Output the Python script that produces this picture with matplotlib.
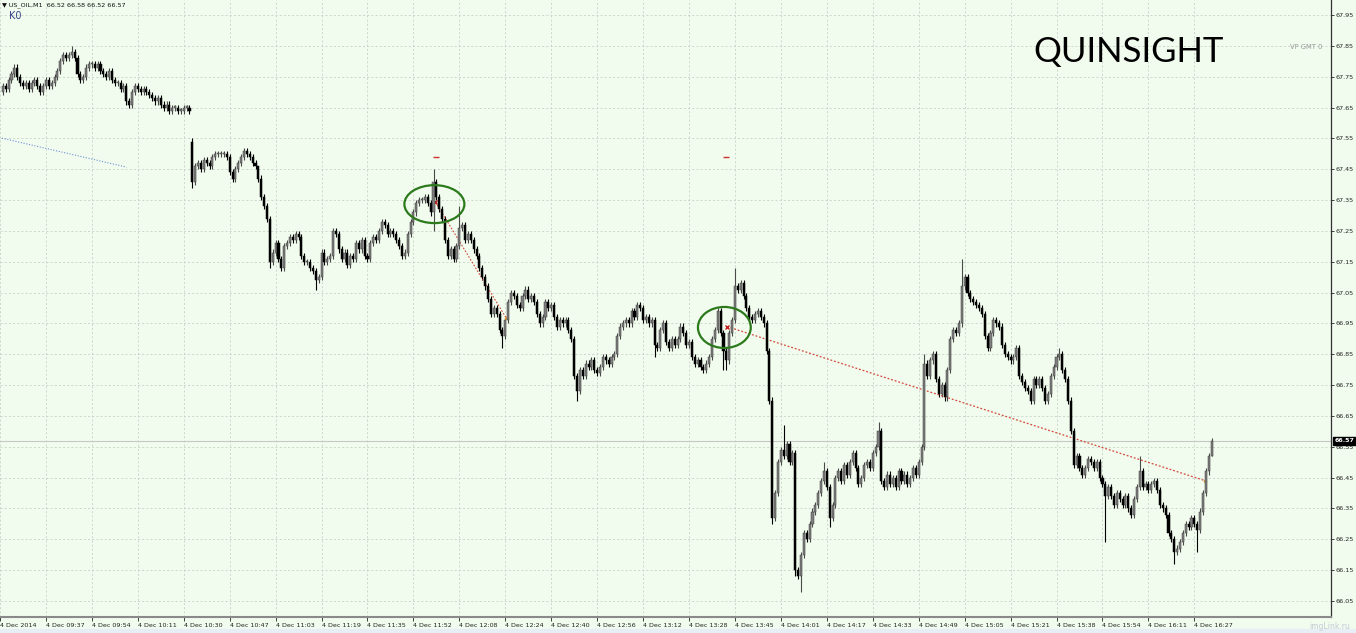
import numpy as np
import matplotlib
matplotlib.use("Agg")
import matplotlib.pyplot as plt
from matplotlib.patches import Ellipse, Rectangle

plt.rcParams['font.family'] = ['DejaVu Sans']

# ---- data (US_OIL M1, 4 Dec 2014) ----
closes = [
    67.72, 67.71, 67.74, 67.76, 67.78, 67.75, 67.73, 67.72, 67.73, 67.71,
    67.73, 67.74, 67.72, 67.70, 67.72, 67.74, 67.72, 67.73, 67.75, 67.77,
    67.80, 67.82, 67.81, 67.82, 67.83, 67.81, 67.76, 67.74, 67.75, 67.78,
    67.79, 67.79, 67.78, 67.79, 67.77, 67.76, 67.75, 67.77, 67.74, 67.73,
    67.73, 67.71, 67.72, 67.67, 67.66, 67.70, 67.72, 67.71, 67.70, 67.71,
    67.70, 67.69, 67.68, 67.67, 67.68, 67.66, 67.65, 67.66, 67.64, 67.65,
    67.65, 67.64, 67.64, 67.65, 67.65, 67.64,
    67.41,
    67.46, 67.47, 67.45, 67.48, 67.47, 67.46, 67.49, 67.50, 67.50,
    67.50, 67.50, 67.49, 67.44, 67.42, 67.45, 67.47, 67.49, 67.51, 67.50,
    67.49, 67.47, 67.46, 67.42, 67.36, 67.33, 67.29, 67.15, 67.18, 67.21,
    67.16, 67.13, 67.20, 67.21, 67.23, 67.22, 67.24, 67.23, 67.17, 67.15,
    67.15, 67.13, 67.12, 67.09, 67.10, 67.18, 67.15, 67.16, 67.17, 67.25,
    67.24, 67.19, 67.16, 67.18, 67.14, 67.17, 67.16, 67.21, 67.19, 67.22,
    67.17, 67.16, 67.21, 67.23, 67.22, 67.25, 67.28, 67.27, 67.24, 67.25,
    67.24, 67.22, 67.20, 67.17, 67.18, 67.24, 67.28, 67.31, 67.34, 67.35,
    67.35, 67.36, 67.34, 67.31, 67.41, 67.36, 67.32, 67.29, 67.22, 67.17,
    67.19, 67.16, 67.20, 67.26, 67.27, 67.22, 67.24, 67.22, 67.19, 67.17,
    67.13, 67.10, 67.07, 67.03, 66.98, 67.00, 66.98, 66.93, 66.91, 66.96,
    67.02, 67.05, 67.04, 67.01, 67.00, 67.04, 67.06, 67.03, 67.04, 67.02,
    66.98, 66.95, 66.97, 67.02, 67.00, 67.01, 66.97, 66.94, 66.96, 66.95,
    66.96, 66.93, 66.90, 66.78, 66.73, 66.80, 66.78, 66.82, 66.81, 66.83,
    66.80, 66.79, 66.81, 66.84, 66.83, 66.82, 66.84, 66.85, 66.91, 66.94,
    66.95, 66.96, 66.95, 66.99, 66.97, 67.01, 67.00, 66.96, 66.97, 66.95,
    66.96, 66.88, 66.87, 66.93, 66.95, 66.89, 66.87, 66.90, 66.88, 66.90,
    66.94, 66.92, 66.88, 66.89, 66.84, 66.82, 66.83, 66.81, 66.80, 66.82,
    66.84, 66.90, 66.93, 66.99, 66.92, 66.86, 66.83, 66.92, 66.96, 67.07,
    67.06, 67.08, 67.04, 67.00, 66.97, 66.96, 66.98, 66.99, 66.97, 66.95,
    66.86, 66.70, 66.32, 66.40, 66.50, 66.54, 66.52, 66.56, 66.50, 66.53,
    66.15, 66.13, 66.20, 66.27, 66.25, 66.30, 66.34, 66.36, 66.40, 66.44,
    66.47, 66.42, 66.32, 66.36, 66.45, 66.47, 66.44, 66.49, 66.46, 66.50,
    66.53, 66.48, 66.43, 66.45, 66.49, 66.50, 66.48, 66.53, 66.55, 66.60,
    66.44, 66.42, 66.46, 66.43, 66.45, 66.42, 66.47, 66.44, 66.46, 66.43,
    66.45, 66.48, 66.46, 66.50, 66.55, 66.82, 66.78, 66.83, 66.85, 66.77,
    66.72, 66.75, 66.71, 66.80, 66.90, 66.93, 66.92, 66.95, 67.07, 67.10,
    67.05, 67.03, 67.02, 67.01, 67.00, 66.98, 66.91, 66.87, 66.92, 66.96,
    66.95, 66.94, 66.88, 66.85, 66.84, 66.83, 66.84, 66.87, 66.78, 66.76,
    66.74, 66.73, 66.70, 66.77, 66.75, 66.77, 66.74, 66.70, 66.72, 66.78,
    66.81, 66.84, 66.85, 66.80, 66.77, 66.70, 66.60, 66.49, 66.52, 66.48,
    66.46, 66.48, 66.51, 66.50, 66.48, 66.50, 66.45, 66.43, 66.39, 66.42,
    66.39, 66.36, 66.40, 66.38, 66.36, 66.39, 66.35, 66.33, 66.38, 66.42,
    66.47, 66.42, 66.43, 66.41, 66.43, 66.44, 66.41, 66.36, 66.35, 66.33,
    66.27, 66.25, 66.21, 66.22, 66.24, 66.27, 66.30, 66.29, 66.32, 66.30,
    66.28, 66.34, 66.40, 66.47, 66.52, 66.57,
]
first_open = 67.70
gap_opens = {66: 67.54}
high_spikes = {24: 67.85, 66: 67.55, 89: 67.45, 150: 67.45, 159: 67.33, 255: 67.13,
               272: 66.62, 286: 66.50, 305: 66.63, 321: 66.85, 334: 67.16, 368: 66.87,
               396: 66.52, 421: 66.58}
low_spikes = {66: 67.39, 93: 67.13, 109: 67.06, 150: 67.25, 174: 66.87, 200: 66.70,
              227: 66.84, 251: 66.80, 252: 66.80, 268: 66.30, 276: 66.13, 278: 66.08,
              288: 66.29, 384: 66.24, 408: 66.17, 416: 66.21, 421: 66.52}

tick_labels = ["4 Dec 2014", "4 Dec 09:37", "4 Dec 09:54", "4 Dec 10:11", "4 Dec 10:30",
               "4 Dec 10:47", "4 Dec 11:03", "4 Dec 11:19", "4 Dec 11:35", "4 Dec 11:52",
               "4 Dec 12:08", "4 Dec 12:24", "4 Dec 12:40", "4 Dec 12:56", "4 Dec 13:12",
               "4 Dec 13:28", "4 Dec 13:45", "4 Dec 14:01", "4 Dec 14:17", "4 Dec 14:33",
               "4 Dec 14:49", "4 Dec 15:05", "4 Dec 15:21", "4 Dec 15:38", "4 Dec 15:54",
               "4 Dec 16:11", "4 Dec 16:27"]
price_ticks = [66.05, 66.15, 66.25, 66.35, 66.45, 66.55, 66.65, 66.75, 66.85, 66.95,
               67.05, 67.15, 67.25, 67.35, 67.45, 67.55, 67.65, 67.75, 67.85, 67.95]
last_price = 66.57

# ---- build OHLC ----
n = len(closes)
closes = np.array(closes)
opens = np.concatenate([[first_open], closes[:-1]])
for k, v in gap_opens.items():
    opens[k] = v
highs = np.maximum(opens, closes) + 0.01
lows = np.minimum(opens, closes) - 0.01
for k, v in high_spikes.items():
    highs[k] = v
for k, v in low_spikes.items():
    lows[k] = v
x = np.arange(n)
up = closes >= opens

bg = '#f1fcee'
fig = plt.figure(figsize=(13.56, 6.33), dpi=100, facecolor=bg)
ax = fig.add_axes([0, 16/633, 1331/1356, 617/633], facecolor=bg)

# strip under the time scale
fig.patches.append(Rectangle((0, 0), 1, 4/633, transform=fig.transFigure,
                             color='#e7eef5', zorder=0))

ax.set_xlim(-0.35, 462.6)
ax.set_ylim(65.998, 67.999)

ax.grid(True, ls=(0, (2.5, 2.5)), color='#c9d2c9', lw=0.6)
ax.set_axisbelow(True)

ax.axhline(last_price, color='#c6c6c6', lw=0.8, zorder=1)

# wicks
ax.vlines(x[up], lows[up], highs[up], color='#4a4a4a', lw=0.8, zorder=2)
ax.vlines(x[~up], lows[~up], highs[~up], color='black', lw=0.8, zorder=2)
# bodies
body_h = np.maximum(np.abs(closes - opens), 0.004)
body_b = np.minimum(opens, closes)
ax.bar(x[up], body_h[up], bottom=body_b[up], width=0.72, color='#7f7f7f',
       edgecolor='#3c3c3c', lw=0.35, zorder=3)
ax.bar(x[~up], body_h[~up], bottom=body_b[~up], width=0.72, color='black',
       edgecolor='black', lw=0.35, zorder=3)

# chart objects
ax.plot([-0.35, 43.1], [67.551, 67.457], ls=(0, (1, 1.5)), color='#6f8fd6', lw=0.8)
ax.plot([151.3, 175.3], [67.334, 66.968], ls=(0, (1.5, 1.5)), color='#d24a3c', lw=0.8)
ax.plot([252.2, 418.8], [66.94, 66.44], ls=(0, (1.5, 1.5)), color='#d24a3c', lw=0.9)
ax.plot([175.3, 418.8], [66.968, 66.44], 'o', color='#e0a040', ms=1.5, lw=0)
ax.plot([150.4, 252.2], [67.343, 66.937], 'x', color='#c81e1e', ms=3, mew=1)
ax.plot([151.0, 252.0], [67.49, 67.49], '_', color='#d03030', ms=4, mew=1)
ax.add_patch(Ellipse((150.3, 67.337), 20.9, 0.123, fill=False, ec='#2c7a1c', lw=1.6, zorder=5))
ax.add_patch(Ellipse((251.3, 66.937), 18.4, 0.133, fill=False, ec='#2c7a1c', lw=1.6, zorder=5))

# axes styling
for s in ['top', 'left']:
    ax.spines[s].set_visible(False)
ax.spines['right'].set_color('#333333')
ax.spines['right'].set_linewidth(0.9)
ax.spines['bottom'].set_color('#8a8a8a')
ax.spines['bottom'].set_linewidth(1.5)

ax.yaxis.tick_right()
ax.set_yticks(price_ticks)
ax.set_yticklabels(['%.2f' % p for p in price_ticks])
ax.tick_params(axis='y', length=2, width=0.6, pad=1.5, labelsize=4.6, colors='#222222')

xt = [-1 + 16 * k for k in range(len(tick_labels))]
ax.set_xticks(xt)
ax.set_xticklabels(tick_labels, ha='left')
ax.tick_params(axis='x', length=3, width=0.6, pad=1.5, labelsize=4.6, colors='#222222')

# current price label
ax.text(1.003, last_price, '%.2f' % last_price, transform=ax.get_yaxis_transform(),
        fontsize=4.6, color='white', va='center', ha='left', fontweight='bold',
        bbox=dict(boxstyle='square,pad=0.25', fc='black', ec='black'), zorder=10, clip_on=False)

# header texts
fig.text(2/1356, 1 - 5/633, u'\u25bc US_OIL,M1  66.52 66.58 66.52 66.57', fontsize=4.6,
         va='center', ha='left', color='#111111')
fig.text(9/1356, 1 - 16/633, 'K0', fontsize=7, va='center', ha='left', color='#34428a')
fig.text(1290/1356, 1 - 47/633, 'VP GMT 0', fontsize=4.9, va='center', ha='left', color='#9a9a9a')
fig.text(1033/1356, 1 - 52/633, 'QUINSIGHT', fontsize=25, family='Lato', va='center',
         ha='left', color='black')
fig.text(1350/1356, 2/633, 'imgLink.ru', fontsize=5.5, va='bottom', ha='right', color='#c4ccd4')

fig.savefig('out.png', dpi=100, facecolor=bg)
